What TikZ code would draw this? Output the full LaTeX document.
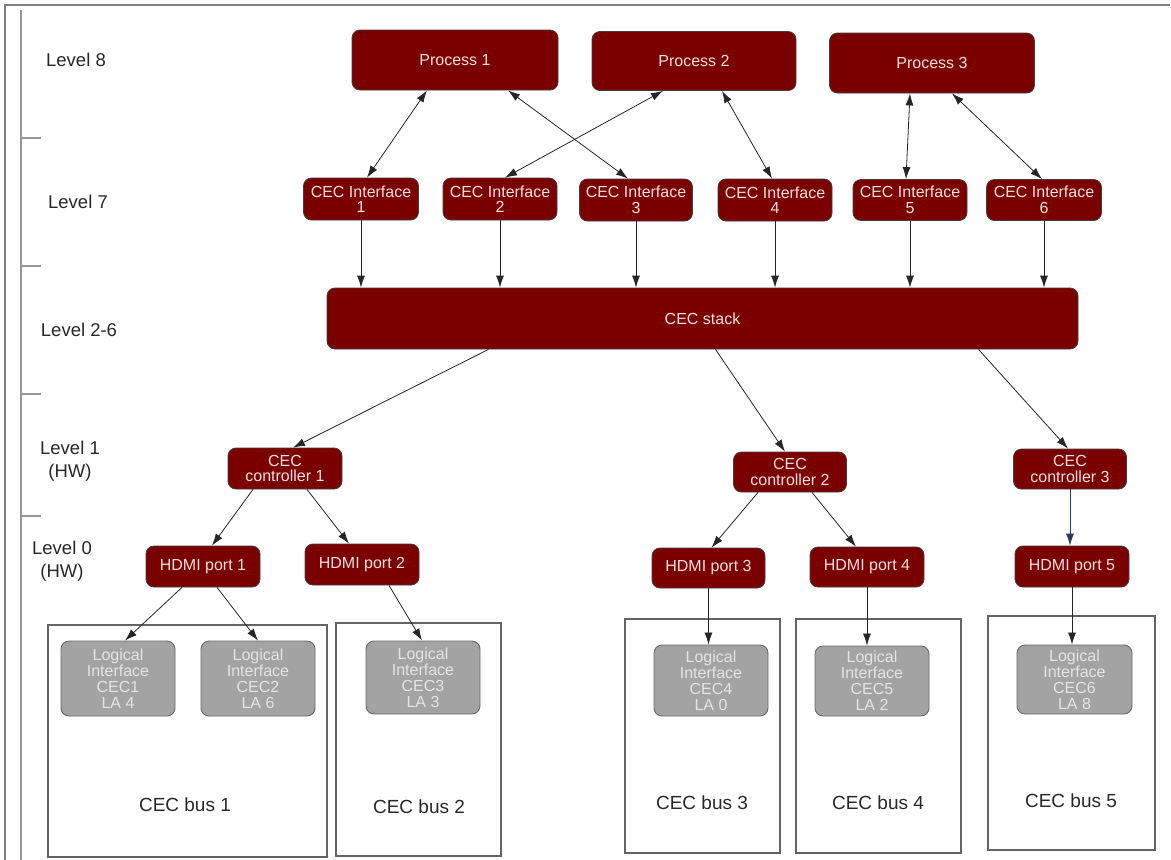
\documentclass[tikz,border=0pt]{standalone}
\usepackage{fontspec}
\setmainfont{Liberation Sans}
\usetikzlibrary{arrows.meta}
\definecolor{boxred}{RGB}{122,0,0}
\definecolor{boxredtext}{RGB}{240,222,222}
\definecolor{boxedge}{RGB}{70,60,60}
\definecolor{lgray}{RGB}{163,163,163}
\definecolor{lgrayedge}{RGB}{105,105,105}
\definecolor{lgraytext}{RGB}{228,228,228}
\definecolor{framegray}{RGB}{128,128,128}
\definecolor{axisgray}{RGB}{150,150,150}
\definecolor{busedge}{RGB}{100,100,100}
\definecolor{navyline}{RGB}{40,55,100}
\definecolor{textgray}{RGB}{40,40,40}
\tikzset{
  redbox/.style={draw=boxedge, line width=0.8pt, fill=boxred, rounded corners=8pt,
    text=boxredtext, align=center, inner sep=0pt,
    font=\fontsize{16}{15.5}\selectfont},
  graybox/.style={draw=lgrayedge, line width=0.9pt, fill=lgray, rounded corners=8pt,
    text=lgraytext, align=center, inner sep=0pt,
    font=\fontsize{16}{16}\selectfont},
  busbox/.style={draw=busedge, line width=1.1pt, inner sep=0pt},
  lvl/.style={text=textgray, align=center, font=\fontsize{18.5}{23}\selectfont},
  buslbl/.style={text=textgray, font=\fontsize{19}{19}\selectfont},
  conn/.style={draw=black!85, line width=0.8pt, -{Latex[length=12pt,width=8pt]}},
  dconn/.style={draw=black!85, line width=0.8pt, {Latex[length=12pt,width=8pt]}-{Latex[length=12pt,width=8pt]}},
}
\begin{document}
\begin{tikzpicture}[x=1pt,y=-1pt]
\useasboundingbox (0,0) rectangle (1171,860);
\fill[white] (0,0) rectangle (1171,860);
% frame and axis
\draw[framegray, line width=1.8pt] (5,860) -- (5,5) -- (1170,5);
\draw[axisgray, line width=1.6pt] (21,10) -- (21,860);
\foreach \yy in {138,266,394,516} \draw[axisgray, line width=1.4pt] (21,\yy) -- (41,\yy);
% level labels
\node[lvl] (lv8) at (76,60) {Level 8};
\node[lvl] (lv7) at (78,202) {Level 7};
\node[lvl] (lv26) at (79,330) {Level 2-6};
\node[lvl] (lv1) at (70,461) {Level 1\\(HW)};
\node[lvl] (lv0) at (62,561) {Level 0\\(HW)};
% processes
\node[redbox, minimum width=206pt, minimum height=60pt] (p1) at (455,60) {Process 1};
\node[redbox, minimum width=204pt, minimum height=59pt] (p2) at (694,61) {Process 2};
\node[redbox, minimum width=205pt, minimum height=60pt] (p3) at (932,63) {Process 3};
% interfaces
\node[redbox, minimum width=115pt, minimum height=42pt] (ci1) at (361,199) {CEC Interface\\1};
\node[redbox, minimum width=114pt, minimum height=42pt] (ci2) at (500,199) {CEC Interface\\2};
\node[redbox, minimum width=113pt, minimum height=42pt] (ci3) at (636,200) {CEC Interface\\3};
\node[redbox, minimum width=114pt, minimum height=42pt] (ci4) at (775,200) {CEC Interface\\4};
\node[redbox, minimum width=114pt, minimum height=41pt] (ci5) at (910,200) {CEC Interface\\5};
\node[redbox, minimum width=115pt, minimum height=41pt] (ci6) at (1044,200) {CEC Interface\\6};
% stack
\node[redbox, minimum width=751pt, minimum height=61pt] (stack) at (702.5,318.5) {CEC stack};
% controllers
\node[redbox, minimum width=114pt, minimum height=41pt] (cc1) at (285,468.5) {CEC\\controller 1};
\node[redbox, minimum width=113pt, minimum height=40pt] (cc2) at (790,472) {CEC\\controller 2};
\node[redbox, minimum width=113pt, minimum height=40pt] (cc3) at (1070,469) {CEC\\controller 3};
% hdmi ports
\node[redbox, minimum width=114pt, minimum height=41pt] (h1) at (203,566.5) {HDMI port 1};
\node[redbox, minimum width=114pt, minimum height=41pt] (h2) at (362,564.5) {HDMI port 2};
\node[redbox, minimum width=113pt, minimum height=40pt] (h3) at (708.5,568) {HDMI port 3};
\node[redbox, minimum width=114pt, minimum height=40pt] (h4) at (867,567) {HDMI port 4};
\node[redbox, minimum width=114pt, minimum height=41pt] (h5) at (1072,566.5) {HDMI port 5};
% buses
\node[busbox, minimum width=279pt, minimum height=232pt] (b1) at (187.5,741) {};
\node[busbox, minimum width=165pt, minimum height=233pt] (b2) at (418.5,739.5) {};
\node[busbox, minimum width=155pt, minimum height=234pt] (b3) at (702.5,736) {};
\node[busbox, minimum width=165pt, minimum height=234pt] (b4) at (878.5,736) {};
\node[busbox, minimum width=167pt, minimum height=234pt] (b5) at (1071.5,733) {};
\node[buslbl] (bl1) at (185,805) {CEC bus 1};
\node[buslbl] (bl2) at (419,807) {CEC bus 2};
\node[buslbl] (bl3) at (702,803) {CEC bus 3};
\node[buslbl] (bl4) at (878,803) {CEC bus 4};
\node[buslbl] (bl5) at (1071,801) {CEC bus 5};
% logical interfaces
\node[graybox, minimum width=114pt, minimum height=75pt] (l1) at (118,678.5) {Logical\\Interface\\CEC1\\LA 4};
\node[graybox, minimum width=114pt, minimum height=75pt] (l2) at (258,678.5) {Logical\\Interface\\CEC2\\LA 6};
\node[graybox, minimum width=114pt, minimum height=73pt] (l3) at (423,677.5) {Logical\\Interface\\CEC3\\LA 3};
\node[graybox, minimum width=114pt, minimum height=71pt] (l4) at (711,680.5) {Logical\\Interface\\CEC4\\LA 0};
\node[graybox, minimum width=114pt, minimum height=70pt] (l5) at (872,681) {Logical\\Interface\\CEC5\\LA 2};
\node[graybox, minimum width=115pt, minimum height=69pt] (l6) at (1074.5,679.5) {Logical\\Interface\\CEC6\\LA 8};
% process <-> interface
\draw[dconn] ([xshift=-28pt]p1.south) -- ([xshift=6pt]ci1.north);
\draw[dconn] ([xshift=53pt]p1.south) -- ([xshift=-8pt]ci3.north);
\draw[dconn] ([xshift=-31pt]p2.south) -- ([xshift=5pt]ci2.north);
\draw[dconn] ([xshift=28pt]p2.south) -- ([xshift=-3pt]ci4.north);
\draw[dconn] ([xshift=-22pt]p3.south) -- ([xshift=-4pt]ci5.north);
\draw[dconn] ([xshift=20pt]p3.south) -- ([xshift=-2pt]ci6.north);
% interface -> stack
\foreach \n in {ci1,ci2,ci3,ci4,ci5,ci6}
  \draw[conn] (\n.south) -- (\n.south |- stack.north);
% stack -> controllers
\draw[conn] ([xshift=-214pt]stack.south) -- ([xshift=8pt]cc1.north);
\draw[conn] ([xshift=13pt]stack.south) -- ([xshift=-5pt]cc2.north);
\draw[conn] ([xshift=276pt]stack.south) -- ([xshift=-2pt]cc3.north);
% controllers -> ports
\draw[conn] ([xshift=-32pt]cc1.south) -- ([xshift=9pt]h1.north);
\draw[conn] ([xshift=22pt]cc1.south) -- ([xshift=-13pt]h2.north);
\draw[conn] ([xshift=-32pt]cc2.south) -- ([xshift=3pt]h3.north);
\draw[conn] ([xshift=22pt]cc2.south) -- ([xshift=-11pt]h4.north);
\draw[conn, draw=navyline] (cc3.south) -- (cc3.south |- h5.north);
% ports -> logical interfaces
\draw[conn] ([xshift=-21pt]h1.south) -- ([xshift=7pt]l1.north);
\draw[conn] ([xshift=14pt]h1.south) -- (l2.north);
\draw[conn] ([xshift=27pt]h2.south) -- ([xshift=-1pt]l3.north);
\draw[conn] (h3.south) -- (h3.south |- l4.north);
\draw[conn] (h4.south) -- (h4.south |- l5.north);
\draw[conn] (h5.south) -- (h5.south |- l6.north);
\end{tikzpicture}
\end{document}
